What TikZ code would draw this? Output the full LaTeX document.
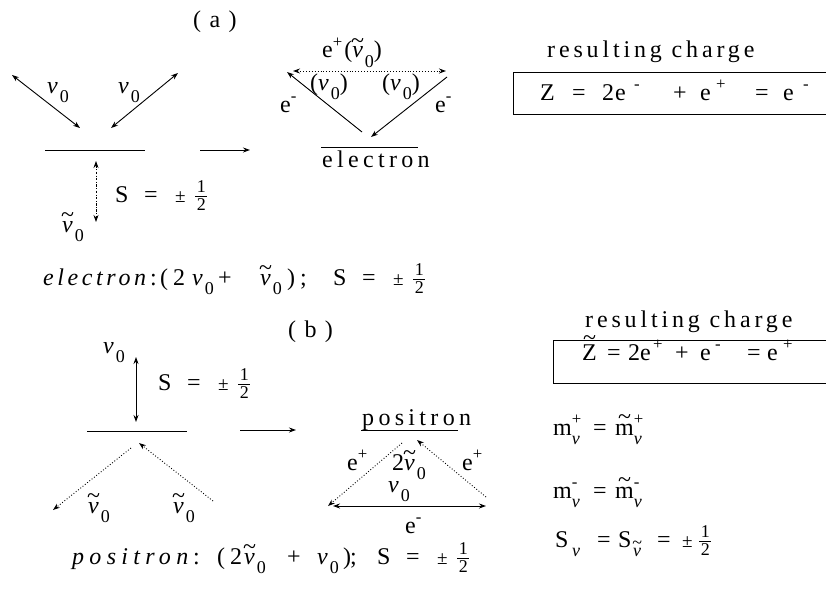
\documentclass[tikz,border=0pt]{standalone}
\usepackage{fontspec}
\setmainfont{Liberation Serif}
\usetikzlibrary{arrows.meta}
\newcommand\sbs[1]{\raisebox{-0.38em}{\scalebox{0.75}{#1}}}
\newcommand\sps[1]{\raisebox{0.42em}{\scalebox{0.7}{#1}}}
\newcommand\tnu{\ooalign{\textit{ν}\cr\hidewidth\raisebox{0.4em}{\textasciitilde}\hidewidth\cr}}
\newcommand\nuo{\textit{ν}\kern2pt\sbs{0}}
\newcommand\tnuo{\tnu\kern2pt\sbs{0}}
\newcommand\half{\ensuremath{\frac{\mbox{\kern1.5pt\scalebox{0.75}{1}\kern1.5pt}}{\mbox{\kern1.5pt\scalebox{0.75}{2}\kern1.5pt}}}}
\newcommand\lsp[2]{{\addfontfeature{LetterSpace=#1}#2}}
\newcommand\pc[2]{\rlap{\hspace*{#1pt}#2}}
\newcommand\Seq{\pc{0}{S}\pc{29}{=}\pc{60}{\scalebox{0.8}{±}}\pc{79}{\half}\hspace*{98pt}}
\newcommand\supsub[2]{\rlap{\raisebox{0.45em}{\scalebox{0.7}{#1}}}\raisebox{-0.4em}{\scalebox{0.75}{#2}}}
\newcommand\tZ{\ooalign{Z\cr\hidewidth\raisebox{0.6em}{\textasciitilde}\hidewidth\cr}}
\newcommand\tm{\ooalign{m\cr\hidewidth\raisebox{0.42em}{\textasciitilde}\hidewidth\cr}}
\begin{document}
\begin{tikzpicture}[x=1pt,y=-1pt,
  t/.style={font=\fontsize{24}{26}\selectfont, inner sep=0pt, anchor=base west},
  ln/.style={line width=0.9pt},
  tip/.tip={Stealth[length=7pt,width=5pt]},
  ar/.style={ln,-tip},
  dar/.style={ln,tip-tip},
  dt/.style={line width=0.9pt,dotted},
  dd/.style={line width=0.8pt,dash pattern=on 2.5pt off 1.5pt on 0.8pt off 1.5pt}]
\useasboundingbox (0,0) rectangle (826,594);

% ---------------- panel (a)
\node[t] (la) at (193,28) {\lsp{35}{(a)}};
\coordinate (a1s) at (12,75);  \coordinate (a1e) at (80,128);
\coordinate (a2s) at (178,73); \coordinate (a2e) at (111,128);
\draw[dar] (a1s) -- (a1e);
\draw[dar] (a2s) -- (a2e);
\coordinate (aL1) at (45,150); \coordinate (aL2) at (145,150);
\draw[ln] (aL1) -- (aL2);
\node[t] (nuA1) at (47,93) {\nuo};
\node[t] (nuA2) at (118,93) {\nuo};
\coordinate (av1) at (96,161); \coordinate (av2) at (96,222);
\draw[dd,tip-tip] (av1) -- (av2);
\node[t] (tnuA) at (62,232) {\tnuo};
\node[t] (SA) at (115,202) {\Seq};
\coordinate (ar1) at (200,150); \coordinate (ar2) at (250,150);
\draw[ar] (ar1) -- (ar2);
\node[t] (elf) at (43,285) {\pc{0}{\lsp{15}{\itshape electron}}\pc{107}{:}\pc{117}{(}\pc{130}{2}\pc{149}{\nuo}\pc{175}{+}\pc{217}{\tnuo}\pc{244}{)}\pc{257}{;}\pc{290}{\Seq}\hspace*{389pt}};

% electron triangle
\coordinate (eT1) at (293,71); \coordinate (eT2) at (446,71);
\draw[dt,tip-tip] (eT1) -- (eT2);
\coordinate (eL1) at (362,132); \coordinate (eL2) at (287,72);
\draw[ar] (eL1) -- (eL2);
\coordinate (eR1) at (447,77); \coordinate (eR2) at (371,137);
\draw[ar] (eR1) -- (eR2);
\coordinate (eo1) at (321,147); \coordinate (eo2) at (418,147);
\draw[ln] (eo1) -- (eo2);
\node[t] (elec) at (322,167) {\lsp{18}{electron}};
\node[t] (epl) at (322,58) {e\sps{+}\kern2pt(\tnuo)};
\node[t] (pn1) at (310,90) {(\nuo)};
\node[t] (pn2) at (382,90) {(\nuo)};
\node[t] (em1) at (280,112) {e\sps{-}};
\node[t] (em2) at (435,112) {e\sps{-}};

% resulting charge (a)
\node[t] (rcA) at (547,57) {\lsp{16}{resulting charge}};
\coordinate (bA1) at (826,72); \coordinate (bA2) at (513,72);
\coordinate (bA3) at (513,114); \coordinate (bA4) at (826,114);
\draw[ln] (bA1) -- (bA2) -- (bA3) -- (bA4);
\node[t] (ZA) at (540,100) {\pc{0}{Z}\pc{32}{=}\pc{62}{2}\pc{75}{e}\pc{94}{\sps{-}}\pc{133}{+}\pc{160}{e}\pc{176}{\sps{+}}\pc{215}{=}\pc{243}{e}\pc{263}{\sps{-}}\hspace*{272pt}};

% ---------------- panel (b)
\node[t] (lb) at (288,337) {\lsp{35}{(b)}};
\coordinate (bv1) at (136,357); \coordinate (bv2) at (136,422);
\draw[dar] (bv1) -- (bv2);
\node[t] (nuB) at (103,353) {\nuo};
\node[t] (SB) at (158,390) {\Seq};
\coordinate (bL1) at (87,431); \coordinate (bL2) at (187,431);
\draw[ln] (bL1) -- (bL2);
\coordinate (br1) at (240,430); \coordinate (br2) at (296,430);
\draw[ar] (br1) -- (br2);
\coordinate (bd1) at (131,448); \coordinate (bd2) at (53,510);
\draw[dt,-tip] (bd1) -- (bd2);
\coordinate (bd3) at (213,501); \coordinate (bd4) at (139,443);
\draw[dt,-tip] (bd3) -- (bd4);
\node[t] (tnuB1) at (88,513) {\tnuo};
\node[t] (tnuB2) at (173,513) {\tnuo};
\node[t] (pof) at (72,564) {\pc{0}{\lsp{22}{\itshape positron}}\pc{121}{:}\pc{145}{(}\pc{158}{2}\pc{172}{\tnuo}\pc{215}{+}\pc{245}{\nuo}\pc{271}{)}\pc{278}{;}\pc{305}{\Seq}\hspace*{403pt}};

% positron triangle
\node[t] (posi) at (362,425) {\lsp{18}{positron}};
\coordinate (pu1) at (361,430); \coordinate (pu2) at (458,430);
\draw[ln] (pu1) -- (pu2);
\coordinate (pA) at (402,443); \coordinate (pBL) at (328,506);
\draw[dt,-tip] (pA) -- (pBL);
\coordinate (pBR) at (486,497); \coordinate (pA2) at (417,440);
\draw[dt,-tip] (pBR) -- (pA2);
\coordinate (pb1) at (333,506); \coordinate (pb2) at (486,506);
\draw[dar] (pb1) -- (pb2);
\node[t] (ep1) at (347,470) {e\sps{+}};
\node[t] (ep2) at (462,470) {e\sps{+}};
\node[t] (tn2) at (392,470) {2\tnuo};
\node[t] (n0) at (388,492) {\nuo};
\node[t] (emb) at (405,533) {e\sps{-}};

% resulting charge (b)
\node[t] (rcB) at (585,327) {\lsp{16}{resulting charge}};
\coordinate (bB1) at (826,340); \coordinate (bB2) at (553,340);
\coordinate (bB3) at (553,383); \coordinate (bB4) at (826,383);
\draw[ln] (bB1) -- (bB2) -- (bB3) -- (bB4);
\node[t] (ZB) at (582,360) {\pc{0}{\tZ}\pc{25}{=}\pc{46}{2}\pc{58}{e}\pc{71}{\sps{+}}\pc{93}{+}\pc{118}{e}\pc{133}{\sps{-}}\pc{165}{=}\pc{185}{e}\pc{201}{\sps{+}}\hspace*{212pt}};
\node[t] (m1) at (553,435) {\pc{0}{m\supsub{+}{\itshape ν}}\pc{40}{=}\pc{62}{\tm\supsub{+}{\itshape ν}}\hspace*{100pt}};
\node[t] (m2) at (553,498) {\pc{0}{m\supsub{-}{\itshape ν}}\pc{40}{=}\pc{62}{\tm\supsub{-}{\itshape ν}}\hspace*{100pt}};
\node[t] (sn) at (553,547) {\pc{2}{S}\pc{19}{\sbs{\itshape ν}}\pc{44}{=}\pc{65}{S}\pc{80}{\sbs{\tnu}}\pc{104}{=}\pc{129}{\scalebox{0.8}{±}}\pc{145}{\half}\hspace*{165pt}};
\end{tikzpicture}
\end{document}
